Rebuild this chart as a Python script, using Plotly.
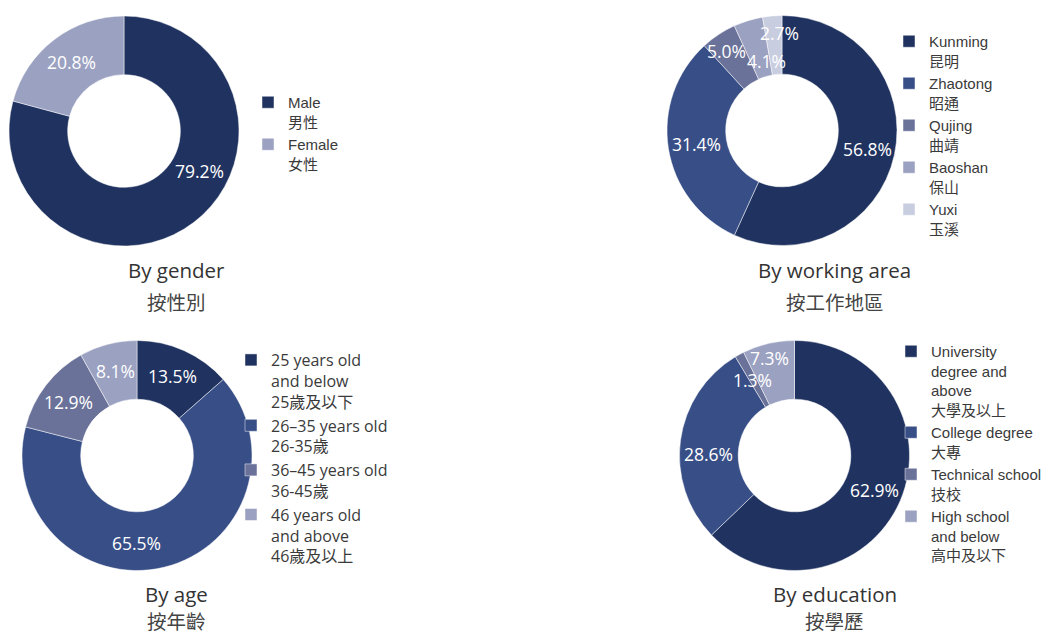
import math
import plotly.graph_objects as go

# ---- data ----
gender_labels = ["Male<br>男性", "Female<br>女性"]
gender_values = [79.2, 20.8]

area_labels = ["Kunming<br>昆明", "Zhaotong<br>昭通", "Qujing<br>曲靖", "Baoshan<br>保山", "Yuxi<br>玉溪"]
area_values = [56.8, 31.4, 5.0, 4.1, 2.7]

age_labels = ["25 years old<br>and below<br>25歲及以下", "26–35 years old<br>26-35歲",
              "36–45 years old<br>36-45歲", "46 years old<br>and above<br>46歲及以上"]
age_values = [13.5, 65.5, 12.9, 8.1]

edu_labels = ["University<br>degree and<br>above<br>大學及以上", "College degree<br>大專",
              "Technical school<br>技校", "High school<br>and below<br>高中及以下"]
edu_values = [62.9, 28.6, 1.3, 7.3]

titles_en = ["By gender", "By working area", "By age", "By education"]
titles_zh = ["按性別", "按工作地區", "按年齡", "按學歷"]

# ---- styles ----
C1, C2, C3, C4, C5 = "#203360", "#384e87", "#6a7299", "#9ba1c1", "#c9cde0"

W, H = 1062, 637
R_OUT = 115
R_LABEL = 87


def px_x(v):
    return v / W


def px_y(v):
    return 1 - v / H


def dom(cx, cy, r):
    return dict(x=[px_x(cx - r), px_x(cx + r)], y=[px_y(cy + r), px_y(cy - r)])


ARIAL = "Liberation Sans, Arial, Noto Sans CJK TC, sans-serif"
OPEN = "Open Sans, Noto Sans CJK TC, sans-serif"

charts = [
    dict(labels=gender_labels, values=gender_values, colors=[C1, C4], center=(124, 131),
         legend="legend", nudge={0: (23, -29)}),
    dict(labels=area_labels, values=area_values, colors=[C1, C2, C3, C4, C5], center=(782, 130.5),
         legend="legend2", nudge={2: (-8, -7), 3: (10, 14), 4: (5, -11)}),
    dict(labels=age_labels, values=age_values, colors=[C1, C2, C3, C4], center=(137, 455.5),
         legend="legend3", nudge={1: (-21, 3)}),
    dict(labels=edu_labels, values=edu_values, colors=[C1, C2, C3, C4], center=(794.5, 455.5),
         legend="legend4", nudge={1: (0, 10), 2: (0, 1), 3: (-5, -13)}),
]

fig = go.Figure()
annotations = []

for ch in charts:
    cx, cy = ch["center"]
    fig.add_trace(go.Pie(
        labels=ch["labels"], values=ch["values"], sort=False, direction="clockwise", rotation=0,
        hole=0.49, domain=dom(cx, cy, R_OUT), legend=ch["legend"],
        marker=dict(colors=ch["colors"], line=dict(color="rgba(255,255,255,0.6)", width=0.8)),
        textinfo="none", hoverinfo="skip",
    ))
    # value labels placed at each slice's mid-angle, derived from the data
    total = sum(ch["values"])
    cum = 0.0
    for i, v in enumerate(ch["values"]):
        theta = math.radians(360.0 * (cum + v / 2.0) / total)
        cum += v
        dx, dy = ch["nudge"].get(i, (0, 0))
        lx = cx + R_LABEL * math.sin(theta) + dx
        ly = cy - R_LABEL * math.cos(theta) + dy
        annotations.append(dict(
            text=f"{v:.1f}%", x=px_x(lx), y=px_y(ly), xref="paper", yref="paper",
            xanchor="center", yanchor="middle", showarrow=False,
            font=dict(family=OPEN, size=17.5, color="white")))


def leg(x, y, family, size):
    return dict(x=px_x(x), y=px_y(y), xanchor="left", yanchor="top",
                bgcolor="rgba(0,0,0,0)", valign="top", traceorder="normal",
                font=dict(family=family, size=size, color="#3a3a3a"))


title_pos = [(176.5, 270, 301), (834.5, 270, 301), (176.5, 594, None), (834.5, 594, None)]
for (cx, y1, y2), te, tz in zip(title_pos, titles_en, titles_zh):
    annotations.append(dict(text=te, x=px_x(cx), y=px_y(y1), xref="paper", yref="paper",
                            xanchor="center", yanchor="middle", showarrow=False,
                            font=dict(family=OPEN, size=20.5, color="#333333")))
    zh = dict(text=tz, x=px_x(cx), xref="paper", yref="paper", xanchor="center", showarrow=False,
              font=dict(family="Noto Sans CJK TC, sans-serif", size=19.5, color="#444444"))
    if y2 is None:
        zh.update(y=0, yanchor="bottom")
    else:
        zh.update(y=px_y(y2), yanchor="middle")
    annotations.append(zh)

fig.update_layout(
    width=W, height=H, margin=dict(l=0, r=0, t=0, b=0),
    paper_bgcolor="white", plot_bgcolor="white",
    legend=leg(248, 86, ARIAL, 15),
    legend2=leg(889, 25, ARIAL, 15),
    legend3=leg(231, 343, OPEN, 16),
    legend4=leg(891, 335, ARIAL, 15),
    annotations=annotations,
)

fig.write_html("out.html")
